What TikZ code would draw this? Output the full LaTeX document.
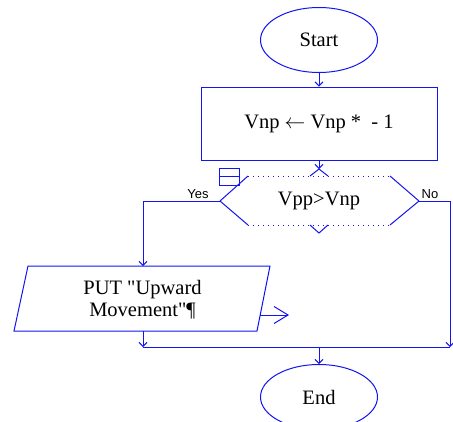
\documentclass[tikz,border=0pt]{standalone}
\usepackage{fontspec}
\setmainfont{Liberation Serif}[Ligatures=TeXOff]
\newfontfamily\labelfont{Liberation Sans}
\usetikzlibrary{shapes.geometric,arrows.meta}
\definecolor{flowblue}{RGB}{20,20,240}
\begin{document}
\begin{tikzpicture}[x=1pt,y=-1pt,
  flowline/.style={draw=flowblue,line width=1pt},
  flowarrow/.style={flowline,-{Straight Barb[length=4pt,width=8pt]}},
  bigarrow/.style={flowline,-{Straight Barb[length=14pt,width=17pt]}},
  terminal/.style={ellipse,draw=flowblue,line width=1pt,minimum width=117pt,minimum height=65pt,inner sep=0pt,font=\fontsize{20.5}{24}\selectfont},
  procbox/.style={rectangle,draw=flowblue,line width=1pt,minimum width=236pt,minimum height=73pt,inner sep=0pt,font=\fontsize{20.5}{24}\selectfont},
  bodytext/.style={inner sep=0pt,font=\fontsize{20.5}{22}\selectfont,align=center},
  branchlabel/.style={inner sep=0pt,anchor=base,font=\labelfont\fontsize{13}{15}\selectfont},
  dottedline/.style={flowline,dash pattern=on 1.4pt off 3.6pt}
]
\useasboundingbox (0,0) rectangle (453,421);

% terminals and process box
\node[terminal] (start) at (319,40) {Start};
\node[procbox] (proc) at (319,123.5) {Vnp $\leftarrow$ Vnp *\ \ - 1};

% decision hexagon
\coordinate (dl) at (220,201);
\coordinate (dr) at (419,201);
\coordinate (dtop) at (319,169);
\coordinate (dbot) at (319,233);
\node[bodytext] (dec) at (319,201) {Vpp>Vnp};
\draw[flowline] (dl) -- (248,176);
\draw[flowline] (dl) -- (248,225);
\draw[flowline] (dr) -- (390,176);
\draw[flowline] (dr) -- (390,225);
\draw[dottedline] (248,176) -- (390,176);
\draw[dottedline] (248,225) -- (390,225);
\draw[flowline] (310,176) -- (dtop) -- (328,176);
\draw[flowline] (310,225) -- (dbot) -- (328,225);
% small marker box on the decision
\draw[flowline] (219.5,168.5) rectangle (239,185);
\draw[flowline] (219.5,176.7) -- (239,176.7);

% input/output parallelogram
\coordinate (iotl) at (28,266);
\coordinate (iotr) at (270,266);
\coordinate (iobr) at (257,331);
\coordinate (iobl) at (14,331);
\draw[flowline] (iotl) -- (iotr) -- (iobr) -- (iobl) -- cycle;
\node[bodytext] (io) at (142.5,300) {PUT "Upward\\Movement"¶};
\coordinate (iotop) at (143,266);
\coordinate (iobot) at (143,331);

% end terminal
\node[terminal] (end) at (319,397) {End};

% branch labels
\node[branchlabel] (yes) at (198,198.5) {Yes};
\node[branchlabel] (no) at (430,198.5) {No};

% connectors
\coordinate (yescorner) at (143,201);
\coordinate (nocorner) at (450,201);
\coordinate (joinleft) at (143,347);
\coordinate (joinright) at (450,347);
\coordinate (joinmid) at (319,347);
\coordinate (outstart) at (260,315);
\coordinate (outend) at (289,315);

\draw[flowarrow] (start.south) -- (proc.north);
\draw[flowarrow] (proc.south) -- (dtop);
\draw[flowarrow] (dl) -- (yescorner) -- (iotop);
\draw[flowarrow] (dr) -- (nocorner) -- (joinright);
\draw[flowarrow] (iobot) -- (joinleft);
\draw[flowline] (joinleft) -- (joinright);
\draw[flowarrow] (joinmid) -- (end.north);
\draw[bigarrow] (outstart) -- (outend);
\end{tikzpicture}
\end{document}
